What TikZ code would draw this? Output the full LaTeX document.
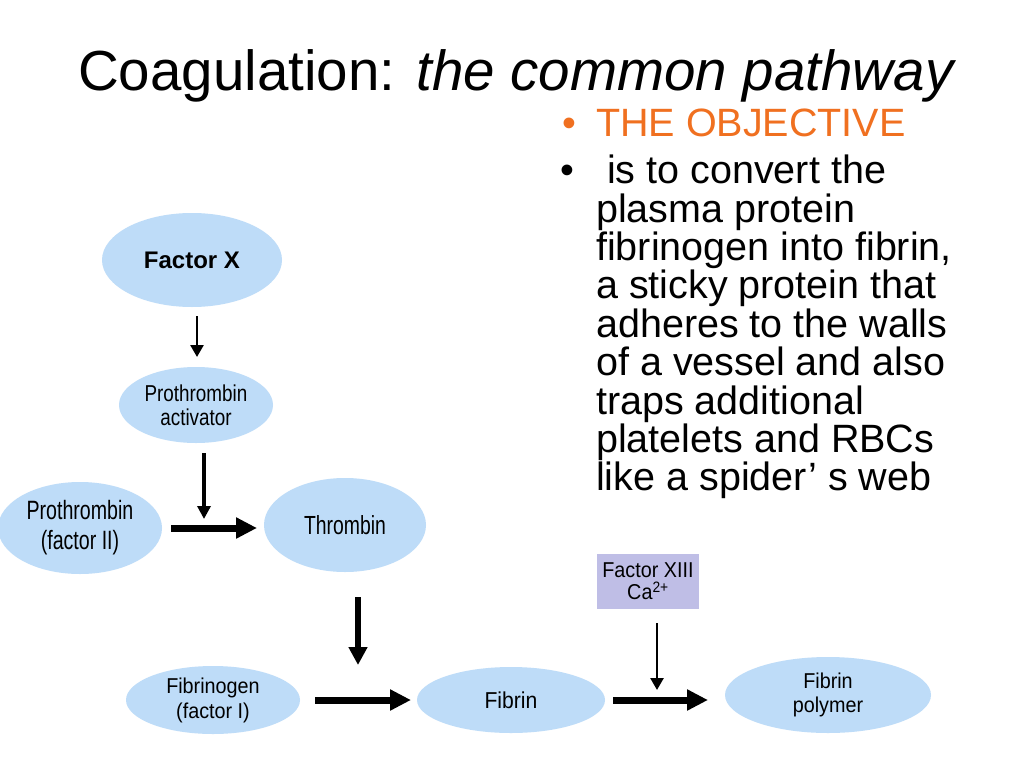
\documentclass[tikz,border=0pt]{standalone}
\usepackage{fontspec}
\setmainfont{Liberation Sans}
\newfontfamily\condA[FakeStretch=0.82]{Liberation Sans}
\newfontfamily\condB[FakeStretch=0.92]{Liberation Sans}
\newfontfamily\condC[FakeStretch=0.74]{Liberation Sans}
\usetikzlibrary{shapes.geometric,arrows.meta}
\definecolor{ellblue}{RGB}{190,220,248}
\definecolor{boxlav}{RGB}{191,190,230}
\definecolor{objorange}{RGB}{240,112,32}
\begin{document}
\begin{tikzpicture}[x=1pt,y=-1pt,
  ell/.style={ellipse, fill=ellblue, inner sep=0pt, align=center},
  txt/.style={anchor=base west, inner sep=0pt, font=\fontsize{39.5}{38}\selectfont},
  thinarr/.style={line width=2.6pt, -{Triangle[length=12pt,width=13pt]}},
  midarr/.style={line width=3.6pt, -{Triangle[length=13pt,width=13pt]}},
  vthick/.style={line width=6pt, -{Triangle[length=18pt,width=18pt]}},
  hthick/.style={line width=7pt, -{Triangle[length=21pt,width=20pt]}}]
\useasboundingbox (0,0) rectangle (1024,768);
\fill[white] (0,0) rectangle (1024,768);

% title
\node[anchor=base west, inner sep=0pt, font=\fontsize{56.5}{60}\selectfont] (title) at (78,90) {Coagulation: \textit{the common pathway}};

% right text
\node[txt, text=objorange] (b1) at (562,136) {•};
\node[txt, text=objorange] (obj) at (596,136) {THE OBJECTIVE};
\node[txt] (b2) at (560,183) {•};
\node[txt] (l1) at (596,183) {\ is to convert the};
\node[txt] (l2) at (596,222) {plasma protein};
\node[txt] (l3) at (596,260) {fibrinogen into fibrin,};
\node[txt] (l4) at (596,298) {a sticky protein that};
\node[txt] (l5) at (596,337) {adheres to the walls};
\node[txt] (l6) at (596,375) {of a vessel and also};
\node[txt] (l7) at (596,414) {traps additional};
\node[txt] (l8) at (596,452) {platelets and RBCs};
\node[txt] (l9) at (596,490) {like a spider’ s web};

% ellipses
\node[ell, minimum width=180pt, minimum height=94pt, font=\bfseries\fontsize{24}{28}\selectfont] (fx) at (192,260) {Factor X};
\node[ell, minimum width=154pt, minimum height=76pt, font=\condA\fontsize{23}{24}\selectfont] (pa) at (196,405) {Prothrombin\\activator};
\node[ell, minimum width=164pt, minimum height=92pt, font=\condC\fontsize{26.5}{30}\selectfont] (pt) at (80,528) {Prothrombin\\(factor II)};
\node[ell, minimum width=162pt, minimum height=94pt, font=\condC\fontsize{26.2}{28}\selectfont] (th) at (345,525) {Thrombin};
\node[ell, minimum width=174pt, minimum height=68pt, font=\condB\fontsize{21.5}{25}\selectfont] (fg) at (213,700) {Fibrinogen\\(factor I)};
\node[ell, minimum width=188pt, minimum height=66pt, font=\condB\fontsize{23}{26}\selectfont] (fb) at (511,700) {Fibrin};
\node[ell, minimum width=206pt, minimum height=76pt, font=\condB\fontsize{21.5}{24}\selectfont] (fp) at (828,695) {Fibrin\\polymer};
\node[rectangle, fill=boxlav, inner sep=0pt, minimum width=102pt, minimum height=55pt, align=center, font=\condB\fontsize{21.5}{22}\selectfont] (f13) at (648,581.5) {Factor XIII\\Ca\textsuperscript{2+}};

% connector ends
\coordinate (a1s) at (197,316); \coordinate (a1e) at (197,357);
\coordinate (a2s) at (204,453); \coordinate (a2e) at (204,519);
\coordinate (a3s) at (171,528); \coordinate (a3e) at (257,528);
\coordinate (a4s) at (358,597); \coordinate (a4e) at (358,665);
\coordinate (a5s) at (315,700); \coordinate (a5e) at (411,700);
\coordinate (a6s) at (657,623); \coordinate (a6e) at (657,690);
\coordinate (a7s) at (613,700); \coordinate (a7e) at (708,700);

\draw[thinarr] (a1s) -- (a1e);
\draw[midarr] (a2s) -- (a2e);
\draw[hthick] (a3s) -- (a3e);
\draw[vthick] (a4s) -- (a4e);
\draw[hthick] (a5s) -- (a5e);
\draw[thinarr] (a6s) -- (a6e);
\draw[hthick] (a7s) -- (a7e);
\end{tikzpicture}
\end{document}
